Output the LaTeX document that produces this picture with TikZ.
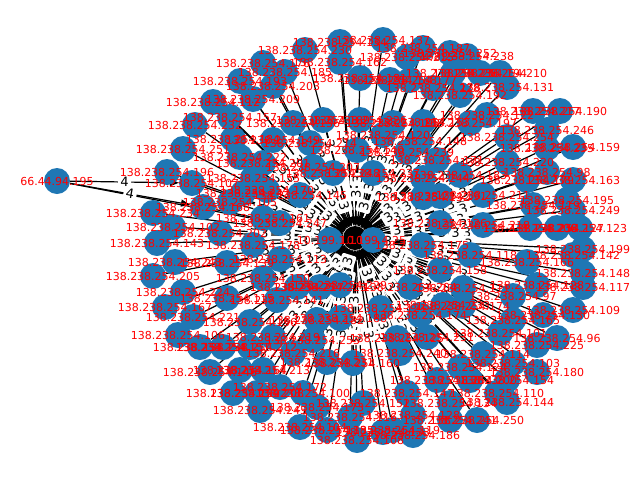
\documentclass[tikz,border=0pt]{standalone}
\usepackage{fontspec}
\setmainfont{DejaVu Sans}
\usetikzlibrary{arrows.meta}
\definecolor{nxblue}{RGB}{31,119,180}
\pgfdeclarelayer{edges}
\pgfdeclarelayer{elabels}
\pgfsetlayers{edges,elabels,main}
\tikzset{
  host/.style   ={circle, fill=nxblue, minimum size=26pt, inner sep=0pt},
  hubnode/.style={circle, fill=black, minimum size=24pt, inner sep=0pt},
  iplab/.style  ={font=\fontsize{11}{11}\selectfont, text=red, inner sep=0pt},
  flow/.style   ={-{Triangle[length=9pt,width=7pt]}, line width=1.2pt},
  elab/.style   ={font=\fontsize{13}{13}\selectfont, fill=white, inner sep=2.5pt,
                  rounded corners=2pt, sloped, midway},
}
% x/y in pixels of the original plot, last octet of the 138.238.254.0/24 host
\def\hostlist{192/183/107, 203/207/168,
  383/40/137, 340/42/134, 305/50/230, 423/48/187, 450/53/252, 467/56/238,
  407/57/215, 340/62/162, 263/63/176, 285/72/185, 240/81/193, 273/86/203,
  360/78/181, 390/80/188, 410/80/177, 453/73/236, 480/73/194, 500/73/210,
  433/88/228, 507/87/131, 460/95/192, 213/102/112, 253/99/209, 230/117/157,
  195/125/232, 293/123/136, 323/120/189, 360/120/226, 393/123/198, 423/122/153,
  470/123/197, 487/115/122, 533/111/217, 560/111/190, 547/130/246, 383/135/120,
  420/141/148, 507/137/254, 233/139/184, 273/140/149, 310/143/214, 183/149/251,
  240/157/222, 263/163/201, 313/167/207, 333/173/248, 357/150/140, 407/152/239,
  437/160/171, 507/162/220, 547/148/235, 573/147/159, 373/173/237, 423/178/244,
  460/175/183, 547/172/98, 527/180/179, 573/180/163, 167/172/196,
  253/178/155, 243/193/242, 267/190/170, 300/195/145, 153/213/234, 230/202/105,
  263/218/161, 173/227/102, 280/223/247, 220/233/202, 440/196/191, 423/197/132,
  483/195/211, 567/200/195, 573/210/249, 533/205/119, 483/225/218, 440/223/126,
  580/228/123, 557/228/127, 530/228/206, 157/243/143, 253/245/178, 280/259/113,
  175/262/243, 227/263/139, 153/276/205, 263/278/150, 297/287/227, 320/287/223,
  183/292/224, 227/298/115, 277/300/141, 165/307/167, 193/317/221, 250/322/156,
  317/320/182, 178/335/106, 273/337/219, 313/340/253, 200/347/154, 223/347/151,
  250/347/212, 293/353/216, 327/362/231, 210/372/146, 240/370/164, 263/370/213,
  280/387/172, 233/393/129, 257/393/208, 303/393/100, 260/410/245, 317/407/173,
  300/427/104, 327/430/135, 350/417/116, 422/245/175, 470/255/118, 527/262/166,
  573/255/142, 583/249/199, 440/270/158, 340/285/229, 410/287/204, 463/288/111,
  513/296/97, 537/285/128, 583/287/117, 583/273/148, 463/306/174, 443/305/233,
  420/315/174, 380/308/121, 340/318/188, 573/310/109, 543/315/130, 513/320/165,
  427/337/231, 397/338/125, 500/333/101, 557/338/96, 537/345/225, 400/353/240,
  483/354/114, 513/363/103, 537/372/180, 353/363/160, 460/367/124, 507/380/154,
  470/380/200, 437/380/138, 497/393/110, 507/402/144, 407/393/147, 450/403/134,
  363/403/152, 413/415/128, 450/420/241, 477/420/250, 393/430/119, 413/435/186,
  357/440/108, 383/432/133}

\begin{document}
\begin{tikzpicture}[x=1pt,y=-1pt]
  \useasboundingbox (0,0) rectangle (640,480);
  \node[hubnode] (hub) at (355,238) {};

  % --- hosts ----------------------------------------------------------
  \foreach \x/\y/\o [count=\i] in \hostlist {
    \node[host] (h\i) at (\x,\y) {};
    \xdef\nhosts{\i}
  }
  \node[host] (lanL) at (330,240) {};
  \node[host] (lanR) at (373,240) {};
  \node[host] (ext) at (57,181) {};

  % --- flows ----------------------------------------------------------
  \begin{pgfonlayer}{edges}
    \foreach \i in {1,...,\nhosts} \draw[flow] (h\i) -- (hub);
    \draw[flow] (ext) -- (h1);
    \draw[flow] (ext) -- (h2);
    \draw[flow] (ext) -- (hub);
  \end{pgfonlayer}
  \begin{pgfonlayer}{elabels}
    \foreach \i in {1,...,\nhosts} \path (h\i) -- (hub) node[elab] {3};
    \path (ext) -- (h1) node[elab] {4};
    \path (ext) -- (h2) node[elab] {4};
    \path (ext) -- (hub) node[elab] {4};
  \end{pgfonlayer}

  % --- address labels -------------------------------------------------
  \foreach \x/\y/\o [count=\i] in \hostlist
    \node[iplab] at (h\i) {138.238.254.\o};
  \node[iplab] at (lanL) {10.199.1.10};
  \node[iplab] at (lanR) {10.199.4.25};
  \node[iplab] at (ext) {66.44.94.195};
\end{tikzpicture}
\end{document}
